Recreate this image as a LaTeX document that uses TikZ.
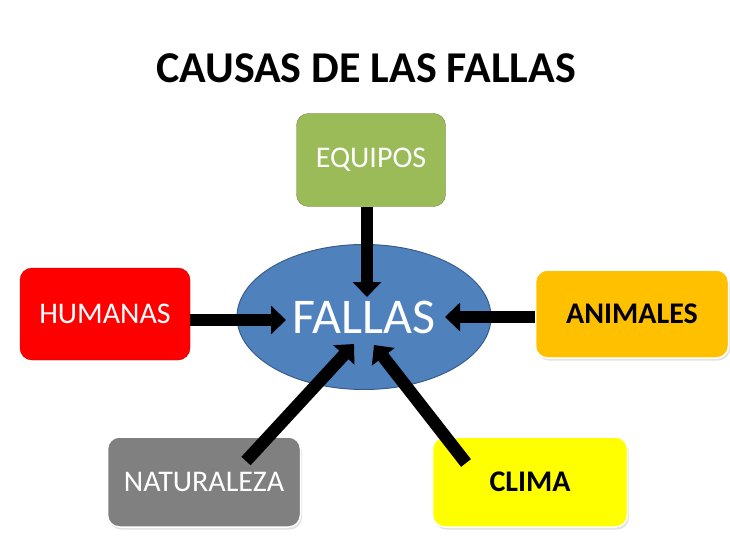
\documentclass[tikz,border=0pt]{standalone}
\usepackage{fontspec}
\setmainfont{Carlito}
\usepackage{xcolor}
\usetikzlibrary{arrows.meta,positioning,shapes.geometric,shadows}
\definecolor{eqgreen}{HTML}{9BBB59}
\definecolor{eqline}{HTML}{71893F}
\definecolor{hured}{HTML}{FF0000}
\definecolor{huline}{HTML}{C00000}
\definecolor{anorange}{HTML}{FFC000}
\definecolor{nagray}{HTML}{808080}
\definecolor{clyellow}{HTML}{FFFF00}
\definecolor{fablue}{HTML}{4F81BD}
\definecolor{faline}{HTML}{385D8A}
\begin{document}
\begin{tikzpicture}[x=1pt,y=-1pt,
  box/.style={draw,rounded corners=12pt,minimum height=92pt,align=center,font=\fontsize{30}{34}\selectfont},
  lit/.style={box,draw=white,line width=1.5pt,drop shadow={shadow xshift=1.5pt,shadow yshift=-2.5pt,fill=black!22}},
  arr/.style={-{Triangle[length=15pt,width=28pt]},line width=12.5pt}]
\useasboundingbox[fill=white] (0,0) rectangle (730,548);
\node[font=\fontsize{44}{50}\selectfont\bfseries] (title) at (366,68) {CAUSAS DE LAS FALLAS};
\node[ellipse,draw=faline,fill=fablue,line width=1pt,minimum width=254pt,minimum height=145pt,text=white,font=\fontsize{50}{56}\selectfont] (fallas) at (364,317) {FALLAS};
\node[box,draw=eqline,fill=eqgreen,text=white,minimum width=149pt,minimum height=93pt] (equipos) at (371,160) {EQUIPOS};
\node[box,draw=huline,fill=hured,text=white,minimum width=170pt] (humanas) at (105,314) {HUMANAS};
\node[lit,fill=anorange,minimum width=193pt,minimum height=88pt,font=\fontsize{30}{34}\selectfont\bfseries] (animales) at (632,314) {ANIMALES};
\node[lit,fill=nagray,text=white,minimum width=193pt,minimum height=90pt] (naturaleza) at (204,482) {NATURALEZA};
\node[lit,fill=clyellow,minimum width=195pt,minimum height=90pt,font=\fontsize{30}{34}\selectfont\bfseries] (clima) at (530,482) {CLIMA};
% arrow tips inside the ellipse
\coordinate (inN) at (367,297);
\coordinate (inW) at (286,320);
\coordinate (inE) at (445,317);
\coordinate (inSW) at (354,344);
\coordinate (inSE) at (374,345);
\draw[arr] (equipos.south -| inN) -- (inN);
\draw[arr] (humanas.east |- inW) -- (inW);
\draw[arr] (animales.west |- inE) -- (inE);
\draw[arr] ([shift={(42,-21)}]naturaleza.center) -- (inSW);
\draw[arr] ([shift={(-64,-19)}]clima.center) -- (inSE);
\end{tikzpicture}
\end{document}
